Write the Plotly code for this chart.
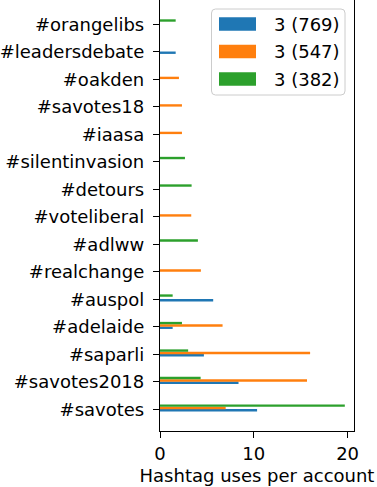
import plotly.graph_objects as go

categories = ["#savotes", "#savotes2018", "#saparli", "#adelaide", "#auspol",
              "#realchange", "#adlww", "#voteliberal", "#detours", "#silentinvasion",
              "#iaasa", "#savotes18", "#oakden", "#leadersdebate", "#orangelibs"]
series_names = ["3 (769)", "3 (547)", "3 (382)"]
blue_values = [10.35, 8.37, 4.68, 1.35, 5.67, None, None, None, None, None,
               None, None, None, 1.67, None]
orange_values = [7.0, 15.67, 16.0, 6.67, None, 4.36, None, 3.33, None, None,
                 2.34, 2.34, 2.02, None, None]
green_values = [19.7, 4.33, 3.0, 2.34, 1.35, None, 4.04, None, 3.37, 2.66,
                None, None, None, None, 1.67]
x_ticks = [0, 10, 20]

colors = ["#1f77b4", "#ff7f0e", "#2ca02c"]
offsets = [-0.08, 0.004, 0.091]
bar_w = 0.087

FONT = "DejaVu Sans"
W, H = 377, 487
ML, MR, MT, MB = 160, 23, 0, 56
PW, PH = W - ML - MR, H - MT - MB

fig = go.Figure()
for name, vals, c, off in zip(series_names, [blue_values, orange_values, green_values], colors, offsets):
    fig.add_trace(go.Bar(
        y=list(range(len(categories))), x=vals, orientation="h", name=name,
        marker=dict(color=c, line=dict(width=0)), width=bar_w, offset=off,
        showlegend=False,
    ))

def px_x(p):
    return (p - ML) / PW

def px_y(p):
    return (H - MB - p) / PH

shapes = []
# legend box (rounded)
x0, x1, y0, y1 = px_x(211.5), px_x(345), px_y(9), px_y(95)
r = 4
rx, ry = r / PW, r / PH
path = (f"M{x0+rx},{y0} L{x1-rx},{y0} Q{x1},{y0} {x1},{y0-ry} "
        f"L{x1},{y1+ry} Q{x1},{y1} {x1-rx},{y1} L{x0+rx},{y1} "
        f"Q{x0},{y1} {x0},{y1+ry} L{x0},{y0-ry} Q{x0},{y0} {x0+rx},{y0} Z")
shapes.append(dict(type="path", xref="paper", yref="paper", path=path,
                   fillcolor="rgba(255,255,255,0.8)", line=dict(color="#cccccc", width=1)))
annotations = []
row_centers = [24, 51.5, 79]
for name, c, yc in zip(series_names, colors, row_centers):
    shapes.append(dict(type="rect", xref="paper", yref="paper",
                       x0=px_x(219), x1=px_x(256), y0=px_y(yc - 6.7), y1=px_y(yc + 6.7),
                       fillcolor=c, line=dict(width=0)))
    annotations.append(dict(xref="paper", yref="paper", x=px_x(271.5), y=px_y(yc),
                            xanchor="left", yanchor="middle", text=name, showarrow=False,
                            font=dict(family=FONT, size=18, color="black")))

fig.update_layout(
    width=W, height=H,
    margin=dict(l=ML, r=MR, t=MT, b=MB, pad=0),
    plot_bgcolor="white", paper_bgcolor="white",
    barmode="overlay",
    font=dict(family=FONT, size=18, color="black"),
    shapes=shapes, annotations=annotations,
    xaxis=dict(range=[0, 20.68], tickvals=x_ticks, ticktext=[str(t) for t in x_ticks],
               ticks="outside", ticklen=6, tickwidth=1.3, tickcolor="black",
               showline=True, linecolor="black", linewidth=1.3, mirror=False,
               showgrid=False, zeroline=False,
               title=dict(text="Hashtag uses per account", font=dict(size=18), standoff=6),
               tickfont=dict(size=18)),
    yaxis=dict(range=[-0.79, 14.88], tickvals=list(range(len(categories))), ticktext=categories,
               ticks="outside", ticklen=6, tickwidth=1.3, tickcolor="black",
               showline=True, linecolor="black", linewidth=1.3, mirror=True,
               showgrid=False, zeroline=False, ticklabelstandoff=5,
               tickfont=dict(size=18)),
)

fig.write_html("out.html", config={"displayModeBar": False},
               post_script="document.body.style.margin='0px';document.body.style.overflow='hidden';")
